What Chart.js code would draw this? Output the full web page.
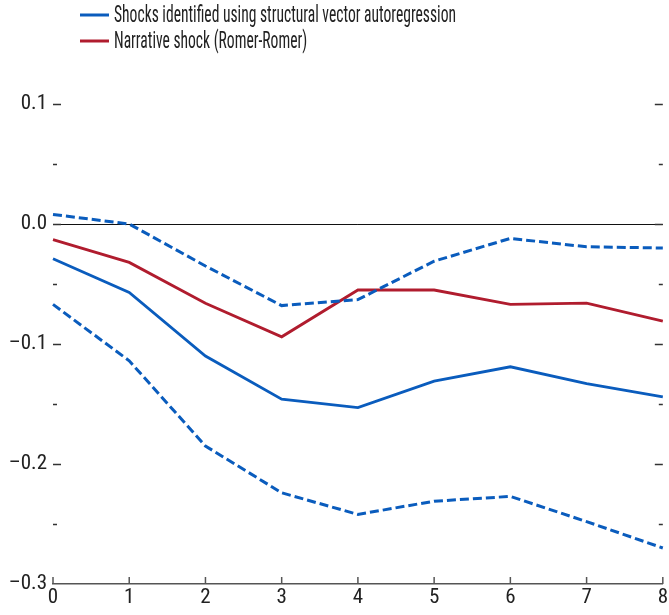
<!DOCTYPE html>
<html><head><meta charset="utf-8">
<script src="https://cdn.jsdelivr.net/npm/chart.js@4/dist/chart.umd.min.js"></script>
<style>html,body{margin:0;padding:0;background:#fff}#wrap{width:669px;height:615px;position:relative}</style>
</head><body><div id="wrap"><canvas id="c"></canvas></div>
<script>
const horizons = ['0','1','2','3','4','5','6','7','8'];
const svarMean  = [-0.029,-0.057,-0.110,-0.146,-0.153,-0.131,-0.119,-0.133,-0.144];
const svarUpper = [0.008, 0.000,-0.035,-0.068,-0.063,-0.031,-0.012,-0.019,-0.020];
const svarLower = [-0.067,-0.114,-0.185,-0.224,-0.242,-0.231,-0.227,-0.248,-0.270];
const narrative = [-0.013,-0.032,-0.066,-0.094,-0.055,-0.055,-0.067,-0.066,-0.081];
const yMin = -0.3, yMax = 0.1, yStep = 0.05;
const legendLabels = ['Shocks identified using structural vector autoregression','Narrative shock (Romer-Romer)'];

const BLUE = '#0a5cbd', RED = '#b01c2e';
const FONT = "'Liberation Sans Narrow','Arial Narrow','Roboto Condensed',sans-serif";
Chart.defaults.font.family = FONT;

function fmt(v){
  const r = Math.round(v*10)/10;
  const s = Math.abs(r).toFixed(1);
  return r < 0 ? '\u2013' + s : s;
}
function isMajor(v){ return Math.abs(v*10 - Math.round(v*10)) < 1e-6; }

const tickPlugin = {
  id: 'tickPlugin',
  afterDraw(chart){
    const ctx = chart.ctx, ca = chart.chartArea;
    const ys = chart.scales.y, xs = chart.scales.x;
    ctx.save();
    ctx.strokeStyle = '#333';
    ctx.lineWidth = 1.3;
    ys.ticks.forEach(t => {
      const v = t.value;
      if (Math.abs(v - yMin) < 1e-9) return;
      const py = Math.round(ys.getPixelForValue(v)) + 0.5;
      const len = isMajor(v) ? 8 : 4;
      ctx.beginPath();
      ctx.moveTo(ca.left, py); ctx.lineTo(ca.left + len, py);
      ctx.moveTo(ca.right - len, py); ctx.lineTo(ca.right, py);
      ctx.stroke();
    });
    ctx.strokeStyle = '#555';
    ctx.lineWidth = 1.5;
    horizons.forEach((h, i) => {
      const px = xs.getPixelForValue(i);
      ctx.beginPath();
      ctx.moveTo(px, ca.bottom); ctx.lineTo(px, ca.bottom - 7);
      ctx.stroke();
    });
    // legend
    const items = [{label: legendLabels[0], color: BLUE, y: 15}, {label: legendLabels[1], color: RED, y: 41}];
    ctx.font = '23px ' + FONT;
    ctx.textBaseline = 'middle';
    ctx.textAlign = 'left';
    const sx = 342 / ctx.measureText(legendLabels[0]).width;
    items.forEach(it => {
      ctx.strokeStyle = it.color; ctx.lineWidth = 3;
      ctx.beginPath(); ctx.moveTo(80, it.y); ctx.lineTo(109, it.y); ctx.stroke();
      ctx.save();
      ctx.translate(114, it.y + 1);
      ctx.scale(sx, 1);
      ctx.fillStyle = '#222';
      ctx.fillText(it.label, 0, 0);
      ctx.restore();
    });
    ctx.restore();
  }
};

new Chart(document.getElementById('c'), {
  type: 'line',
  data: {
    labels: horizons,
    datasets: [
      {label: 'upper', data: svarUpper, borderColor: BLUE, borderWidth: 3, borderDash: [9,4], pointRadius: 0, fill: false, tension: 0},
      {label: 'lower', data: svarLower, borderColor: BLUE, borderWidth: 3, borderDash: [9,4], pointRadius: 0, fill: false, tension: 0},
      {label: legendLabels[0], data: svarMean, borderColor: BLUE, borderWidth: 2.8, pointRadius: 0, fill: false, tension: 0},
      {label: legendLabels[1], data: narrative, borderColor: RED, borderWidth: 2.8, pointRadius: 0, fill: false, tension: 0}
    ]
  },
  options: {
    responsive: true, maintainAspectRatio: false, animation: false,
    layout: {autoPadding: false, padding: {top: 104, right: 6, left: 0, bottom: 0}},
    plugins: {legend: {display: false}, tooltip: {enabled: false}},
    scales: {
      x: {
        type: 'category', offset: false,
        grid: {display: false, drawTicks: false},
        border: {display: true, color: '#555', width: 1.5},
        ticks: {color: '#222', font: {size: 21}, padding: 1, maxRotation: 0, autoSkip: false},
        afterFit(s){ s.height = 31; }
      },
      y: {
        min: yMin, max: yMax,
        grid: {drawTicks: false, color: c => (c.tick && Math.abs(c.tick.value) < 1e-9) ? '#111' : 'rgba(0,0,0,0)', lineWidth: 1},
        border: {display: false},
        ticks: {stepSize: yStep, color: '#222', font: {size: 21}, padding: 6,
          callback: v => isMajor(v) ? fmt(v) : ''},
        afterFit(s){ s.width = 53; }
      }
    }
  },
  plugins: [tickPlugin]
});
</script></body></html>
